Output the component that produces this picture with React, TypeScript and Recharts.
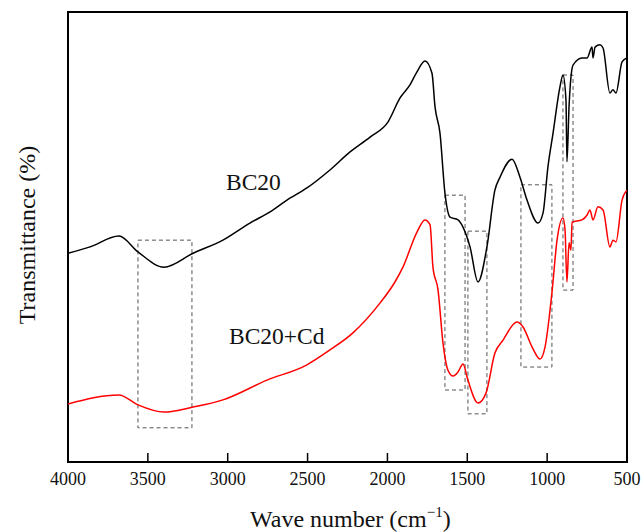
import { LineChart, Line, XAxis, YAxis, ReferenceArea } from 'recharts';

const W = 641;
const H = 532;
const SERIF = 'Liberation Serif';

const xTicks = [4000, 3500, 3000, 2500, 2000, 1500, 1000, 500];

// BC20 (black) — wavenumber / relative transmittance
const bc20Wave = [
  4000, 3862, 3681, 3562, 3399, 3217, 3030, 2861, 2735, 2629, 2504, 2360, 2234, 2109, 1996, 1921,
  1859, 1815, 1765, 1721, 1702, 1671, 1640, 1608, 1558, 1527, 1483, 1433, 1377, 1327, 1295, 1220,
  1170, 1126, 1057, 1026, 995, 963, 920, 901, 882, 876, 863, 838, 782, 750, 719, 713, 700, 669,
  650, 607, 588, 569, 531, 500,
];
const bc20Trans = [
  46.4, 47.8, 50.2, 46.7, 43.3, 46.4, 49.3, 53.1, 55.6, 58.2, 60.9, 64.9, 68.9, 72.2, 75.6, 80.9,
  83.8, 86.7, 89.1, 86.4, 78.9, 73.1, 59.8, 54.4, 53.8, 52.2, 47.8, 40, 47.8, 60.4, 63.3, 67.3,
  63.3, 58.2, 53.1, 55.3, 65.6, 73.1, 83.3, 86, 80.4, 66.7, 78.9, 88.2, 89.8, 89.8, 92.2, 89.8,
  92.2, 92.7, 92, 82, 82.7, 82, 88.9, 89.8,
];

// BC20+Cd (red)
const cdWave = [
  4000, 3681, 3562, 3399, 3217, 3030, 2754, 2504, 2360, 2216, 2047, 1953, 1903, 1815, 1765, 1733,
  1715, 1683, 1652, 1621, 1589, 1558, 1527, 1496, 1433, 1383, 1327, 1276, 1189, 1151, 1095, 1045,
  1013, 970, 938, 901, 888, 876, 863, 851, 844, 782, 750, 732, 713, 682, 650, 607, 588, 569, 531,
  500,
];
const cdTrans = [
  12.9, 14.9, 12.7, 11.1, 12.2, 13.8, 18.2, 21.6, 24.9, 28.7, 35.3, 40, 43.3, 51.1, 53.8, 52.7,
  43.3, 38.2, 26.4, 20.4, 19.1, 20, 21.8, 18.2, 13.1, 15.3, 24.2, 27.1, 31.1, 30, 25.6, 22.9,
  25.6, 37.6, 49.3, 54.2, 51.6, 40, 48.7, 47.1, 53.3, 53.8, 54.9, 56, 53.8, 56.7, 56, 47.8, 49.3,
  48.9, 58.2, 60.4,
];

// dashed boxes marking bands: [wave from, wave to, low, high]
const boxes = [
  [3562, 3224, 7.6, 49.3],
  [1640, 1514, 16, 59.3],
  [1496, 1377, 10.7, 51.3],
  [1164, 970, 21.1, 61.6],
  [901, 838, 38.2, 86],
];

const bc20Data = bc20Wave.map((w, i) => ({ wave: w, t: bc20Trans[i] }));
const cdData = cdWave.map((w, i) => ({ wave: w, t: cdTrans[i] }));

const NoTick = () => <g />;

// tick label drawn by hand so the serif face sticks
const SerifTick = ({ x, y, payload }: any) => (
  <text x={x} y={y} dy={13} textAnchor="middle" fontSize={18} fill="#111" style={{ fontFamily: SERIF }}>
    {payload.value}
  </text>
);

export default function App() {
  return (
    <div
      style={{
        position: 'absolute',
        left: 0,
        top: 0,
        width: W,
        height: H,
        background: '#fff',
        fontFamily: SERIF,
      }}
    >
      <LineChart
        width={W}
        height={H}
        margin={{ top: 12, right: 14, left: 68, bottom: 40 }}
        style={{ fontFamily: SERIF }}
      >
        <XAxis
          dataKey="wave"
          type="number"
          domain={[500, 4000]}
          reversed
          ticks={xTicks}
          allowDataOverflow
          height={30}
          axisLine={false}
          tickLine={false}
          tickSize={4}
          tickMargin={6}
          tick={SerifTick}
        />
        <XAxis
          xAxisId="inner"
          dataKey="wave"
          type="number"
          domain={[500, 4000]}
          reversed
          ticks={xTicks}
          allowDataOverflow
          mirror
          axisLine={false}
          tickSize={9}
          tickLine={{ stroke: '#000', strokeWidth: 1.5 }}
          tick={NoTick}
        />
        <YAxis type="number" domain={[0, 100]} hide allowDataOverflow />
        {boxes.map(([x1, x2, y1, y2], i) => (
          <ReferenceArea
            key={i}
            x1={x1}
            x2={x2}
            y1={y1}
            y2={y2}
            fill="none"
            stroke="#555"
            strokeWidth={1}
            strokeDasharray="4 3"
          />
        ))}
        <Line
          data={bc20Data}
          dataKey="t"
          stroke="#000"
          strokeWidth={1.5}
          dot={false}
          type="monotone"
          isAnimationActive={false}
        />
        <Line
          data={cdData}
          dataKey="t"
          stroke="#ff0000"
          strokeWidth={1.5}
          dot={false}
          type="monotone"
          isAnimationActive={false}
        />
        <ReferenceArea
          x1={4000}
          x2={500}
          y1={0}
          y2={100}
          fill="none"
          stroke="#000"
          strokeWidth={2}
        />
      </LineChart>
      <svg
        width={W}
        height={H}
        style={{ position: 'absolute', left: 0, top: 0, pointerEvents: 'none' }}
      >
        <g style={{ fontFamily: SERIF }} fill="#111">
          <text x={226} y={190} fontSize={23.5}>BC20</text>
          <text x={229} y={344} fontSize={23.5}>BC20+Cd</text>
          <text x={250} y={527} fontSize={24}>
            Wave number (cm
            <tspan fontSize={15} dy={-10}>−1</tspan>
            <tspan dy={10}>)</tspan>
          </text>
          <text
            x={0}
            y={0}
            fontSize={24}
            textAnchor="middle"
            transform="translate(35 235) rotate(-90)"
          >
            Transmittance (%)
          </text>
        </g>
      </svg>
    </div>
  );
}
